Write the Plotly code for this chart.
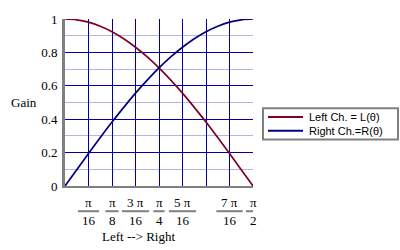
import plotly.graph_objects as go

# angle in sixteenths of pi (0 .. 8 = pi/2)
theta16 = [0, 0.5, 1, 1.5, 2, 2.5, 3, 3.5, 4, 4.5, 5, 5.5, 6, 6.5, 7, 7.5, 8]
left_gain = [1.000, 0.995, 0.981, 0.957, 0.924, 0.882, 0.831, 0.773, 0.707,
             0.634, 0.556, 0.471, 0.383, 0.290, 0.195, 0.098, 0.000]
right_gain = [0.000, 0.098, 0.195, 0.290, 0.383, 0.471, 0.556, 0.634, 0.707,
              0.773, 0.831, 0.882, 0.924, 0.957, 0.981, 0.995, 1.000]
series_names = ["Left Ch. = L(θ)", "Right Ch.=R(θ)"]
series_colors = ["#800020", "#000080"]

tick_pos = [1, 2, 3, 4, 5, 7, 8]
tick_num = ["π", "π", "3 π", "π", "5 π", "7 π", "π"]
tick_den = ["16", "8", "16", "4", "16", "16", "2"]
bar_halfwidth = [0.45, 0.28, 0.58, 0.24, 0.58, 0.56, 0.3]

fig = go.Figure()
for ys, nm, col in zip([left_gain, right_gain], series_names, series_colors):
    fig.add_trace(go.Scatter(x=theta16, y=ys, mode="lines", name=nm, showlegend=False,
                             line=dict(color=col, width=1.7, shape="spline")))

serif = "Liberation Serif"
for p, n, d, hw in zip(tick_pos, tick_num, tick_den, bar_halfwidth):
    fig.add_annotation(x=p, y=-0.099, xref="x", yref="paper", text=n, showarrow=False,
                       font=dict(family=serif, size=13, color="black"), yanchor="middle")
    fig.add_annotation(x=p, y=-0.209, xref="x", yref="paper", text=d, showarrow=False,
                       font=dict(family=serif, size=13, color="black"), yanchor="middle")
    fig.add_shape(type="line", xref="x", yref="paper", x0=p - hw, x1=p + hw,
                  y0=-0.151, y1=-0.151, line=dict(color="#808080", width=2))

fig.add_annotation(x=0.391, y=-0.302, xref="paper", yref="paper", text="Left --> Right",
                   showarrow=False, font=dict(family=serif, size=13, color="black"), yanchor="middle")
fig.add_annotation(x=-0.22, y=0.5, xref="paper", yref="paper", text="Gain", showarrow=False,
                   font=dict(family=serif, size=13, color="black"), xanchor="center", yanchor="middle")

# hand-drawn legend box
fig.add_shape(type="rect", xref="paper", yref="paper", x0=1.0532, x1=1.7713, y0=0.279, y1=0.4651,
              line=dict(color="#808080", width=2), fillcolor="white")
for i, (nm, col) in enumerate(zip(series_names, series_colors)):
    yy = 0.4128 - i * 0.0814
    fig.add_shape(type="line", xref="paper", yref="paper", x0=1.0798, x1=1.266, y0=yy, y1=yy,
                  line=dict(color=col, width=2))
    fig.add_annotation(x=1.287, y=yy, xref="paper", yref="paper", text=nm, showarrow=False,
                       xanchor="left", yanchor="middle",
                       font=dict(family="Liberation Sans", size=11, color="black"))

fig.update_layout(
    width=400, height=250,
    margin=dict(l=65, r=147, t=14, b=64),
    paper_bgcolor="white", plot_bgcolor="white",
    font=dict(family=serif, size=13, color="black"),
    showlegend=False,
    xaxis=dict(range=[0, 8], dtick=1, tick0=0, showticklabels=False, ticks="",
               showgrid=True, gridcolor="#0000A0", gridwidth=1, zeroline=False,
               showline=True, linecolor="#808080", linewidth=2, mirror=False),
    yaxis=dict(range=[0, 1], dtick=0.2, tick0=0, ticks="", showgrid=True,
               gridcolor="#0000A0", gridwidth=1, zeroline=False,
               showline=True, linecolor="#808080", linewidth=3,
               tickfont=dict(family=serif, size=13), ticklabelstandoff=2,
               minor=dict(dtick=0.1, showgrid=True, gridcolor="#B4B4EC", gridwidth=1)),
)
fig.write_html("out.html")
